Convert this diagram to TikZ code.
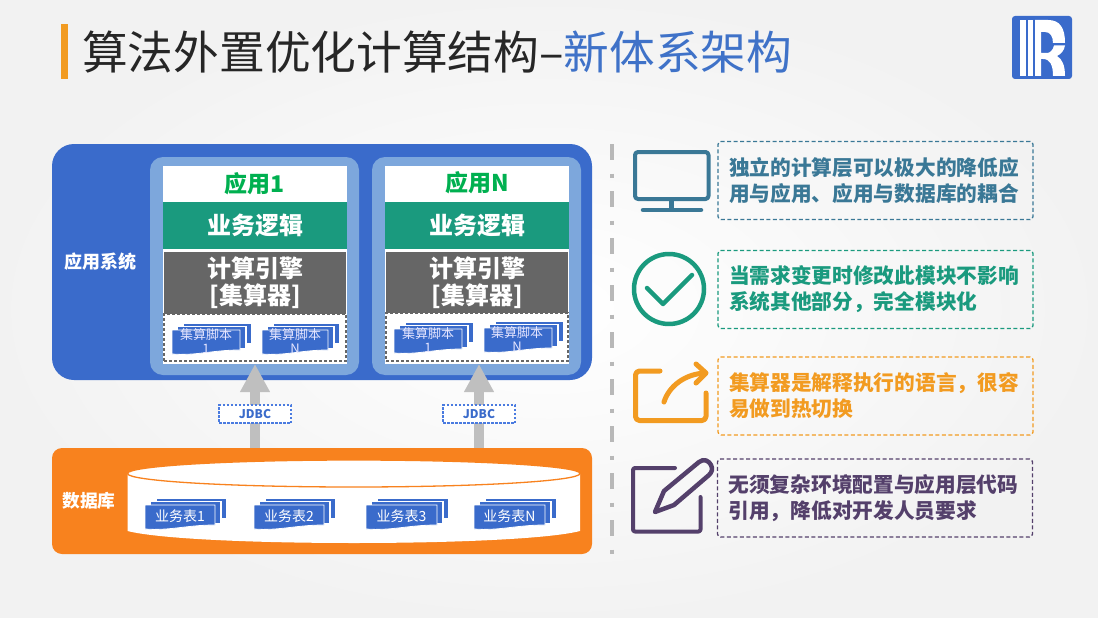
\documentclass[tikz,border=0pt]{standalone}
\usepackage{fontspec}
\setmainfont{Noto Sans CJK SC}
\usetikzlibrary{arrows.meta}
\definecolor{mainblue}{HTML}{3A6BCB}
\definecolor{lightblue}{HTML}{7DA7DC}
\definecolor{tealgreen}{HTML}{1A9A7E}
\definecolor{enginegray}{HTML}{666666}
\definecolor{dborange}{HTML}{F8821E}
\definecolor{arrowgray}{HTML}{BFBFBF}
\definecolor{petrol}{HTML}{3A7896}
\definecolor{amber}{HTML}{F29B21}
\definecolor{plum}{HTML}{54406B}
\definecolor{titleblue}{HTML}{3F72C8}
\definecolor{appgreen}{HTML}{00B050}
\definecolor{jdbcblue}{HTML}{4A7BE0}
\tikzset{
  block/.style={inner sep=0pt,outer sep=0pt,align=center},
  cjkfont/.style={font=\fontsize{#1}{#1}\selectfont\bfseries},
  infobox/.style={draw=#1,text=#1,line width=1.3pt,dash pattern=on 4pt off 2.5pt,rounded corners=3pt,
    minimum width=315pt,minimum height=78pt,text width=293pt,inner sep=0pt,align=left,
    font=\fontsize{20.7}{26}\selectfont\bfseries},
  jdbcbox/.style={draw=jdbcblue,line width=1.2pt,dash pattern=on 2.5pt off 1.5pt,fill=white,text=mainblue,minimum width=72pt,minimum height=18pt,inner sep=0pt,font=\fontsize{12}{12}\selectfont\bfseries},
  bigarrow/.style={draw=arrowgray,line width=10pt,-{Triangle[length=28pt,width=28pt,fill=arrowgray]}},
  docback/.style={fill=mainblue,draw=white,line width=1.2pt},
  doctext/.style={inner sep=0pt,align=center,text=white,font=\fontsize{14}{14}\selectfont},
  scripttext/.style={inner sep=0pt,align=center,text=blue!10!white,font=\fontsize{13}{13.5}\selectfont},
  icon/.style={line width=#1,line cap=round,line join=round},
}
% x, y (top-left of front sheet), width, height
\newcommand\sheets[4]{%
  \path[docback] (#1+11,#2-6.5) rectangle (#1+#3+12,#2+#4-11);
  \path[docback] (#1+5.5,#2-3.5) rectangle (#1+#3+6,#2+#4-6);
  \path[fill=mainblue,draw=white,line width=.8pt] (#1,#2) -- (#1+#3,#2) -- (#1+#3,#2+#4-5)
     .. controls (#1+#3*.6,#2+#4-5) and (#1+#3*.35,#2+#4+1) .. (#1,#2+#4-1) -- cycle;
}
\begin{document}
\begin{tikzpicture}[x=1pt,y=-1pt]
\useasboundingbox (0,0) rectangle (1098,618);
\shade[inner color=white,outer color=black!5] (0,0) rectangle (1098,618);

% title
\fill[amber] (61,24) rectangle (68,79);
\node[anchor=west,inner sep=0pt,text=black!85,font=\fontsize{45.7}{46}\selectfont] (title) at (82,52) {算法外置优化计算结构–\textcolor{titleblue}{新体系架构}};

% logo
\fill[mainblue,rounded corners=3pt] (1012,16) rectangle (1072,79);
\fill[white] (1020,20) rectangle (1026,76);
\fill[white] (1028,20) rectangle (1033,76);
\fill[white] (1035,20) -- (1048,20) .. controls (1060,20) and (1065,28) .. (1065,43) -- (1053,43)
   .. controls (1053,36) and (1050,32) .. (1045,32) -- (1041,32) -- (1041,53) -- (1047,53) .. controls (1050,53) and (1053,50) .. (1054,45.5)
   -- (1065,45.5) .. controls (1064,51) and (1061,54) .. (1057,56) .. controls (1062,59) and (1065,65) .. (1065,76) -- (1053,76)
   .. controls (1053,65) and (1050,59) .. (1043,59) -- (1041,59) -- (1041,76) -- (1035,76) -- cycle;

% application system
\node[block,fill=mainblue,rounded corners=22pt,minimum width=540pt,minimum height=236pt] (sys) at (322,262) {};
\node[block,text=white,cjkfont=18] (syslabel) at (100,262) {应用系统};

\node[block,fill=lightblue,rounded corners=13pt,minimum width=209pt,minimum height=218pt] (outer1) at (254.5,266) {};
\node[block,fill=white,minimum width=184pt,minimum height=198pt] (card1) at (255,265) {};
\node[block,text=appgreen,cjkfont=23,minimum width=184pt,minimum height=36pt] (app1) at (255,184) {应用1};
\node[block,fill=tealgreen,text=white,cjkfont=24,minimum width=184pt,minimum height=47pt] (logic1) at (255,225.5) {业务逻辑};
\node[block,fill=enginegray,text=white,font=\fontsize{24}{27}\selectfont\bfseries,minimum width=182pt,minimum height=62pt] (engine1) at (255,283) {计算引擎\\{[}集算器{]}};
\node[block,draw=enginegray,densely dashed,line width=1.2pt,minimum width=182pt,minimum height=47pt] (scripts1) at (255,337.5) {};
\sheets{172}{330}{68}{25}
\node[scripttext] (s11) at (206,341) {集算脚本\\1};
\sheets{262}{330}{66}{25}
\node[scripttext] (s1n) at (295,341) {集算脚本\\N};

\node[block,fill=lightblue,rounded corners=13pt,minimum width=209pt,minimum height=218pt] (outer2) at (476.5,266) {};
\node[block,fill=white,minimum width=184pt,minimum height=198pt] (card2) at (477,265) {};
\node[block,text=appgreen,cjkfont=23,minimum width=184pt,minimum height=36pt] (app2) at (477,183) {应用N};
\node[block,fill=tealgreen,text=white,cjkfont=24,minimum width=184pt,minimum height=47pt] (logic2) at (477,225.5) {业务逻辑};
\node[block,fill=enginegray,text=white,font=\fontsize{24}{27}\selectfont\bfseries,minimum width=182pt,minimum height=61pt] (engine2) at (477,282.5) {计算引擎\\{[}集算器{]}};
\node[block,draw=enginegray,densely dashed,line width=1.2pt,minimum width=182pt,minimum height=48pt] (scripts2) at (477,337) {};
\sheets{394}{329}{68}{25}
\node[scripttext] (s21) at (428,340) {集算脚本\\1};
\sheets{484}{328}{68}{25}
\node[scripttext] (s2n) at (517,339) {集算脚本\\N};

% database
\node[block,fill=dborange,rounded corners=10pt,minimum width=540pt,minimum height=106pt] (db) at (322,501) {};
\node[block,text=white,cjkfont=17.7] (dblabel) at (89,501) {数据库};
\fill[white] (127.5,473.5) -- (127.5,531) .. controls (190,547) and (518,547) .. (580,531) -- (580,473.5) -- cycle;
\draw[dborange,fill=white,line width=1.3pt] (353.75,473.5) circle [x radius=226.25,y radius=13.5];
\sheets{145}{505}{70}{25}
\node[doctext] (t1) at (180,516) {业务表1};
\sheets{254}{505}{70}{25}
\node[doctext] (t2) at (289,516) {业务表2};
\sheets{366}{505}{71}{25}
\node[doctext] (t3) at (401.5,516) {业务表3};
\sheets{474}{505}{71}{25}
\node[doctext] (t4) at (509.5,516) {业务表N};

% arrows between database and applications
\coordinate (in1) at (card1.south);
\coordinate (in2) at ([xshift=2pt]card2.south);
\draw[bigarrow] (db.north -| in1) -- (in1);
\draw[bigarrow] (db.north -| in2) -- (in2);
\node[jdbcbox] (jdbc1) at (255,414) {JDBC};
\node[jdbcbox] (jdbc2) at (479,414) {JDBC};

% separator
\coordinate (septop) at (612,144);
\coordinate (sepbot) at (612,556);
\draw[black!28,line width=4pt,dash pattern=on 16pt off 13.5pt on 4pt off 13.5pt] (septop) -- (sepbot);

% right column boxes
\node[infobox=petrol] (b1) at (875.5,180.5) {独立的计算层可以极大的降低应\\用与应用、应用与数据库的耦合};
\node[infobox=tealgreen] (b2) at (875.5,289.5) {当需求变更时修改此模块不影响\\系统其他部分，完全模块化};
\node[infobox=amber] (b3) at (875.5,396) {集算器是解释执行的语言，很容\\易做到热切换};
\node[infobox=plum] (b4) at (875,498) {无须复杂环境配置与应用层代码\\引用，降低对开发人员要求};

% monitor icon
\draw[petrol,icon=4pt,rounded corners=3pt] (635,152) rectangle (708.5,199);
\draw[petrol,line width=5pt] (671,200) -- (671,210);
\draw[petrol,icon=4.5pt] (643,210) -- (701,210);
% check icon
\draw[tealgreen,icon=4.5pt] (669,289) circle [radius=35];
\draw[tealgreen,icon=4.5pt] (647,288) -- (663,304) -- (692,275);
% share icon
\draw[amber,icon=5pt,rounded corners=4pt] (660,371) -- (635.5,371) -- (635.5,420.5) -- (706,420.5) -- (706,393);
\draw[amber,icon=5pt] (664,402) .. controls (669,386) and (685,374) .. (705,373);
\draw[amber,icon=5pt] (696,364) -- (706,373) -- (696,383);
% pen icon
\draw[plum,icon=4pt,rounded corners=2pt] (675,468) -- (633,468) -- (633,531.5) -- (700.5,531.5) -- (700.5,497);
\draw[plum,icon=4.5pt] (655,512) -- (664,491) -- (699,462) .. controls (704,458) and (709,461) .. (711,465) .. controls (713,469) and (712,472) .. (709,475) -- (674,505) -- cycle;
\end{tikzpicture}
\end{document}
